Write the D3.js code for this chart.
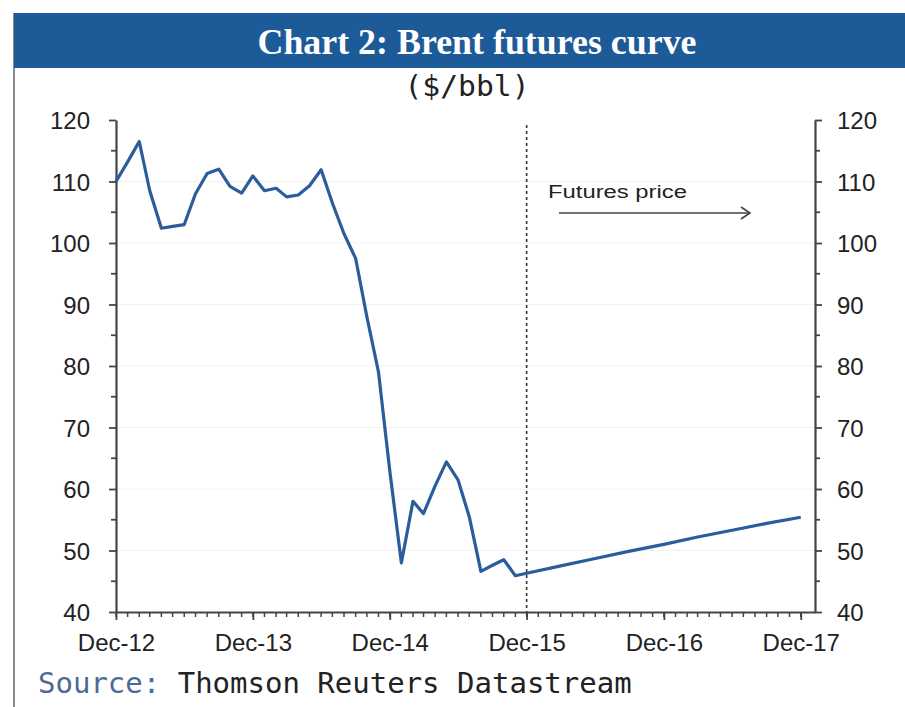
<!DOCTYPE html>
<html>
<head>
<meta charset="utf-8">
<script src="https://cdn.jsdelivr.net/npm/d3@7"></script>
<style>
  body { margin: 0; background: #fff; }
  svg { display: block; }
</style>
</head>
<body>
<svg id="chart" width="905" height="707"></svg>
<script>
// monthly Brent spot, Dec-12 .. Dec-15
const spotMonths = ['Dec-12','Jan-13','Feb-13','Mar-13','Apr-13','May-13','Jun-13','Jul-13','Aug-13','Sep-13',
  'Oct-13','Nov-13','Dec-13','Jan-14','Feb-14','Mar-14','Apr-14','May-14','Jun-14','Jul-14','Aug-14','Sep-14',
  'Oct-14','Nov-14','Dec-14','Jan-15','Feb-15','Mar-15','Apr-15','May-15','Jun-15','Jul-15','Aug-15','Sep-15',
  'Oct-15','Nov-15','Dec-15']
const spotValues = [110, 113.2, 116.5, 108.5, 102.4, 102.7, 103, 108, 111.3, 112, 109.2, 108.1, 110.9, 108.5,
  108.9, 107.5, 107.8, 109.3, 111.9, 106.5, 101.5, 97.5, 88, 79, 63, 48, 58, 56, 60.5, 64.4, 61.5, 55.5,
  46.6, 47.6, 48.5, 45.9, 46.3]

// futures curve from Dec-15
const futMonths = ['Dec-15','Mar-16','Jun-16','Sep-16','Dec-16','Mar-17','Jun-17','Sep-17','Dec-17']
const futValues = [46.3, 47.5, 48.7, 49.9, 51.0, 52.2, 53.3, 54.4, 55.4]

const yearTicks = ['Dec-12','Dec-13','Dec-14','Dec-15','Dec-16','Dec-17']
const yTicks = [40, 50, 60, 70, 80, 90, 100, 110, 120]

const parse = d3.timeParse('%b-%y')
const spot = spotMonths.map((m, i) => ({ date: parse(m), value: spotValues[i] }))
const fut = futMonths.map((m, i) => ({ date: parse(m), value: futValues[i] }))

const svg = d3.select('#chart')
const plotL = 116, plotR = 815, plotT = 120, plotB = 612

const x = d3.scaleTime()
  .domain([parse('Dec-12'), new Date(2018, 0, 8)])
  .range([plotL, plotR])
const y = d3.scaleLinear().domain([40, 120]).range([plotB, plotT])

// frame + header
svg.append('line').attr('x1', 14).attr('x2', 14).attr('y1', 13).attr('y2', 707)
  .attr('stroke', '#8a8a8a').attr('stroke-width', 2)
svg.append('rect').attr('x', 14).attr('y', 13).attr('width', 891).attr('height', 55)
  .attr('fill', '#1d5a98')
svg.append('text').attr('x', 477).attr('y', 54).attr('text-anchor', 'middle')
  .attr('font-family', 'Liberation Serif, serif').attr('font-weight', 'bold')
  .attr('font-size', 36).attr('fill', '#fff')
  .attr('textLength', 439).attr('lengthAdjust', 'spacingAndGlyphs')
  .text('Chart 2: Brent futures curve')
svg.append('text').attr('x', 467).attr('y', 96).attr('text-anchor', 'middle')
  .attr('font-family', 'DejaVu Sans Mono, monospace').attr('font-size', 28).attr('fill', '#222')
  .attr('textLength', 125).attr('lengthAdjust', 'spacingAndGlyphs')
  .text('($/bbl)')

// faint grid
svg.append('g').selectAll('line').data(yTicks.slice(1, -1)).join('line')
  .attr('x1', plotL).attr('x2', plotR).attr('y1', d => y(d)).attr('y2', d => y(d))
  .attr('stroke', '#f2f2f2').attr('stroke-width', 1)

const axisColor = '#444'
const labelFont = 'Liberation Sans, Arial, sans-serif'

// y axes with minor ticks
const yMinor = d3.range(45, 120, 10)
function styleAxis(g) {
  g.select('.domain').attr('stroke', axisColor).attr('stroke-width', 2.2)
  g.selectAll('.tick line').attr('stroke', axisColor).attr('stroke-width', 1.8)
  g.selectAll('.tick text').attr('font-family', labelFont).attr('font-size', 24).attr('fill', '#222')
}
const yl = svg.append('g').attr('transform', `translate(${plotL},0)`)
  .call(d3.axisLeft(y).tickValues(yTicks).tickSize(7).tickPadding(19).tickSizeOuter(0))
yl.call(styleAxis)
yl.selectAll('.tick text').attr('dy', '0.36em')
yl.append('g').selectAll('line').data(yMinor).join('line')
  .attr('x1', -5).attr('x2', 0).attr('y1', d => y(d)).attr('y2', d => y(d))
  .attr('stroke', axisColor).attr('stroke-width', 1.8)

const yr = svg.append('g').attr('transform', `translate(${plotR},0)`)
  .call(d3.axisRight(y).tickValues(yTicks).tickSize(7).tickPadding(15).tickSizeOuter(0))
yr.call(styleAxis)
yr.selectAll('.tick text').attr('dy', '0.36em')
yr.append('g').selectAll('line').data(yMinor).join('line')
  .attr('x1', 0).attr('x2', 5).attr('y1', d => y(d)).attr('y2', d => y(d))
  .attr('stroke', axisColor).attr('stroke-width', 1.8)

// x axis: monthly minor ticks, labelled Decembers
const months = d3.timeMonth.range(parse('Dec-12'), d3.timeMonth.offset(parse('Dec-17'), 1))
const xa = svg.append('g').attr('transform', `translate(0,${plotB})`)
  .call(d3.axisBottom(x).tickValues(yearTicks.map(parse)).tickSize(8).tickPadding(14)
    .tickSizeOuter(0).tickFormat(d3.timeFormat('%b-%y')))
xa.call(styleAxis)
xa.append('g').selectAll('line').data(months).join('line')
  .attr('x1', d => x(d)).attr('x2', d => x(d)).attr('y1', 0).attr('y2', 5)
  .attr('stroke', axisColor).attr('stroke-width', 1.5)

// divider at Dec-15
svg.append('line').attr('x1', x(parse('Dec-15'))).attr('x2', x(parse('Dec-15')))
  .attr('y1', 125).attr('y2', plotB)
  .attr('stroke', '#333').attr('stroke-width', 1.6).attr('stroke-dasharray', '3,3')

// series
const line = d3.line().x(d => x(d.date)).y(d => y(d.value))
svg.append('path').datum(spot.concat(fut.slice(1))).attr('d', line)
  .attr('fill', 'none').attr('stroke', '#2b5c9c').attr('stroke-width', 3.2)
  .attr('stroke-linejoin', 'round')

// annotation
svg.append('text').attr('x', 548).attr('y', 198)
  .attr('font-family', labelFont).attr('font-size', 18).attr('fill', '#222')
  .attr('textLength', 139).attr('lengthAdjust', 'spacingAndGlyphs')
  .text('Futures price')
svg.append('line').attr('x1', 559).attr('x2', 750).attr('y1', 213).attr('y2', 213)
  .attr('stroke', '#444').attr('stroke-width', 1.6)
svg.append('path').attr('d', 'M741,207 L750,213 L741,219')
  .attr('fill', 'none').attr('stroke', '#444').attr('stroke-width', 1.6)

// source
const src = svg.append('text').attr('x', 38).attr('y', 693)
  .attr('font-family', 'DejaVu Sans Mono, monospace').attr('font-size', 29)
src.append('tspan').attr('fill', '#4d6a96').text('Source: ')
src.append('tspan').attr('fill', '#222').text('Thomson Reuters Datastream')
</script>
</body>
</html>
